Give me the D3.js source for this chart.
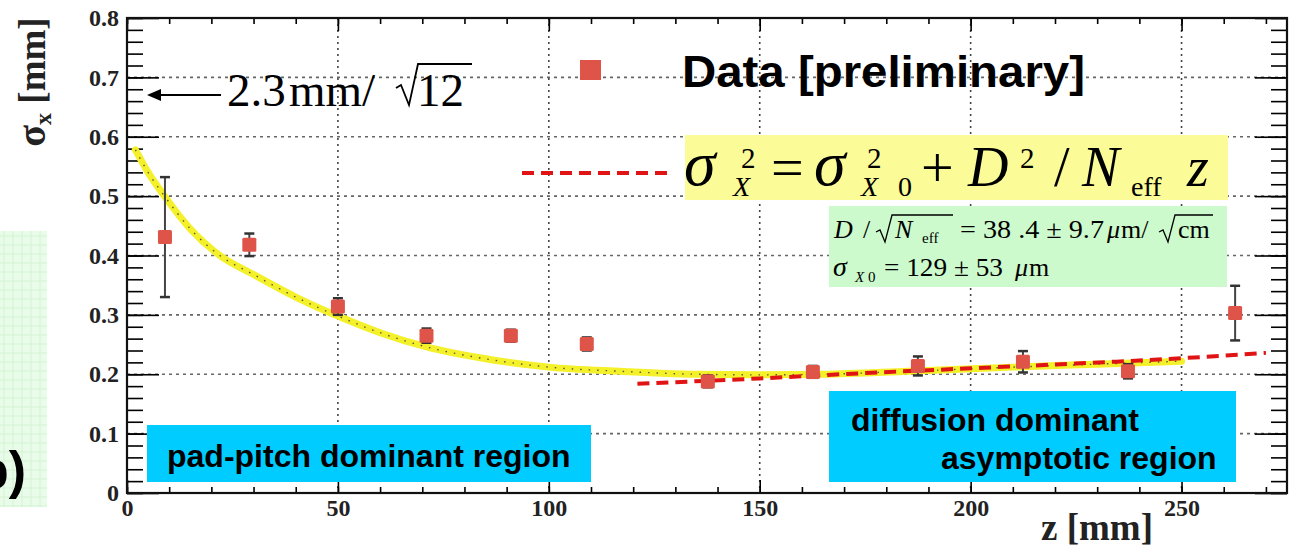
<!DOCTYPE html>
<html>
<head>
<meta charset="utf-8">
<script src="https://cdn.jsdelivr.net/npm/d3@7"></script>
<style>
  body { margin: 0; background: #fff; }
  svg { display: block; }
  .tick line { stroke: #000; stroke-width: 1.6; }
  .axis path.domain { display: none; }
</style>
</head>
<body>
<svg width="1297" height="549"></svg>
<script>
// measured points (z in mm, sigma_x in mm)
const zVals = [9, 29, 50, 71, 91, 109, 137.7, 162.6, 187.5, 212.4, 237.3, 262.7];
const sigmaVals = [0.431, 0.418, 0.314, 0.265, 0.265, 0.251, 0.188, 0.204, 0.214, 0.221, 0.205, 0.303];
const sigmaErr = [0.101, 0.019, 0.014, 0.012, 0.010, 0.011, 0.010, 0.010, 0.016, 0.018, 0.012, 0.046];

// yellow curve (pad-pitch fit)
const curveZ = [2, 5, 9, 15, 22, 30, 40, 50, 60, 71, 85, 100, 117, 135, 150, 165, 185, 210, 230, 250];
const curveS = [0.578, 0.540, 0.499, 0.445, 0.400, 0.368, 0.330, 0.298, 0.270, 0.246, 0.226, 0.212, 0.205, 0.200, 0.199, 0.200, 0.205, 0.212, 0.217, 0.222];

// red dashed diffusion fit
const fitZ = [121, 150, 175, 200, 225, 250, 270];
const fitS = [0.184, 0.193, 0.202, 0.210, 0.218, 0.227, 0.236];

const xMajor = [0, 50, 100, 150, 200, 250];
const yMajor = [0, 0.1, 0.2, 0.3, 0.4, 0.5, 0.6, 0.7, 0.8];

const svg = d3.select("svg");
const pL = 127, pR = 1287, pT = 18, pB = 493;

const x = d3.scaleLinear().domain([0, 275]).range([pL, pR]);
const y = d3.scaleLinear().domain([0, 0.8]).range([pB, pT]);

const xMinor = d3.range(0, 276, 10);
const yMinor = d3.range(0, 0.81, 0.02);

// left cut-off panel of the slide
const gp = svg.append("g");
gp.append("rect").attr("x", 0).attr("y", 231).attr("width", 47).attr("height", 276).attr("fill", "#e9fce9");
d3.range(4, 47, 9).forEach(v => gp.append("line").attr("x1", v).attr("x2", v).attr("y1", 231).attr("y2", 507)
    .attr("stroke", "#d4f3d4").attr("stroke-width", 1));
d3.range(236, 507, 9).forEach(v => gp.append("line").attr("x1", 0).attr("x2", 47).attr("y1", v).attr("y2", v)
    .attr("stroke", "#d4f3d4").attr("stroke-width", 1));
gp.append("text").attr("x", 26).attr("y", 488).attr("text-anchor", "end")
    .attr("font-family", "Liberation Sans, Arial, sans-serif").attr("font-weight", "bold")
    .attr("font-size", 52).attr("fill", "#000").text("b)");

// grid
const grid = svg.append("g");
xMajor.filter(d => d > 0).forEach(d => grid.append("line")
    .attr("x1", x(d)).attr("x2", x(d)).attr("y1", pT).attr("y2", pB)
    .attr("stroke", "#444").attr("stroke-width", 1.6).attr("stroke-dasharray", "2,4"));
yMajor.filter(d => d > 0 && d < 0.8).forEach(d => grid.append("line")
    .attr("x1", pL).attr("x2", pR).attr("y1", y(d)).attr("y2", y(d))
    .attr("stroke", "#666").attr("stroke-width", 1.6).attr("stroke-dasharray", "3,4"));

// axes ticks (inward, on all four sides)
function styleLabels(g) {
    g.selectAll("text").attr("font-family", "Liberation Serif, serif").attr("font-weight", "bold")
        .attr("font-size", 24).attr("fill", "#222");
}
svg.append("g").attr("class", "axis").attr("transform", `translate(0,${pB})`)
    .call(d3.axisBottom(x).tickValues(xMinor).tickSize(-6).tickFormat(""));
svg.append("g").attr("class", "axis").attr("transform", `translate(0,${pB})`)
    .call(d3.axisBottom(x).tickValues(xMajor).tickSize(-13).tickPadding(6).tickFormat(d3.format("d")))
    .call(styleLabels);
svg.append("g").attr("class", "axis").attr("transform", `translate(0,${pT})`)
    .call(d3.axisTop(x).tickValues(xMinor).tickSize(-6).tickFormat(""));
svg.append("g").attr("class", "axis").attr("transform", `translate(0,${pT})`)
    .call(d3.axisTop(x).tickValues(xMajor).tickSize(-13).tickFormat(""));
svg.append("g").attr("class", "axis").attr("transform", `translate(${pL},0)`)
    .call(d3.axisLeft(y).tickValues(yMinor).tickSize(-16).tickFormat(""));
svg.append("g").attr("class", "axis").attr("transform", `translate(${pL},0)`)
    .call(d3.axisLeft(y).tickValues(yMajor).tickSize(-32).tickPadding(8)
        .tickFormat(d => d === 0 ? "0" : d3.format(".1f")(d)))
    .call(styleLabels);
svg.append("g").attr("class", "axis").attr("transform", `translate(${pR},0)`)
    .call(d3.axisRight(y).tickValues(yMinor).tickSize(-16).tickFormat(""));
svg.append("g").attr("class", "axis").attr("transform", `translate(${pR},0)`)
    .call(d3.axisRight(y).tickValues(yMajor).tickSize(-32).tickFormat(""));

svg.append("rect").attr("x", pL).attr("y", pT).attr("width", pR - pL).attr("height", pB - pT)
    .attr("fill", "none").attr("stroke", "#111").attr("stroke-width", 2.2);

// axis titles
const yt = svg.append("text").attr("transform", "translate(45,82) rotate(-90)")
    .attr("text-anchor", "middle").attr("font-family", "Liberation Serif, serif")
    .attr("font-weight", "bold").attr("fill", "#222");
yt.append("tspan").attr("font-size", 40).text("σ");
yt.append("tspan").attr("font-size", 24).attr("dy", 6).text("x");
yt.append("tspan").attr("font-size", 37).attr("dy", -6).text(" [mm]");

svg.append("text").attr("x", 1153).attr("y", 540).attr("text-anchor", "end")
    .attr("font-family", "Liberation Serif, serif").attr("font-weight", "bold")
    .attr("font-size", 37).attr("fill", "#222").text("z [mm]");

// yellow fit curve with dotted core
const curve = curveZ.map((z, i) => [z, curveS[i]]);
const line = d3.line().x(d => x(d[0])).y(d => y(d[1])).curve(d3.curveMonotoneX);
svg.append("path").datum(curve).attr("d", line).attr("fill", "none")
    .attr("stroke", "#f4f02a").attr("stroke-width", 7).attr("stroke-linecap", "round");
svg.append("path").datum(curve).attr("d", line).attr("fill", "none")
    .attr("stroke", "#5a5a30").attr("stroke-width", 1.4).attr("stroke-dasharray", "1.5,7");

// red dashed fit
const fit = fitZ.map((z, i) => [z, fitS[i]]);
svg.append("path").datum(fit).attr("d", line).attr("fill", "none")
    .attr("stroke", "#e01414").attr("stroke-width", 4).attr("stroke-dasharray", "12,7");

// data points with error bars
const pts = svg.append("g");
zVals.forEach((z, i) => {
    const cx = x(z), y1 = y(sigmaVals[i] + sigmaErr[i]), y2 = y(sigmaVals[i] - sigmaErr[i]);
    pts.append("line").attr("x1", cx).attr("x2", cx).attr("y1", y1).attr("y2", y2)
        .attr("stroke", "#444").attr("stroke-width", 2);
    [y1, y2].forEach(yy => pts.append("line").attr("x1", cx - 5).attr("x2", cx + 5)
        .attr("y1", yy).attr("y2", yy).attr("stroke", "#333").attr("stroke-width", 2.5));
    pts.append("rect").attr("x", cx - 7).attr("y", y(sigmaVals[i]) - 7)
        .attr("width", 14).attr("height", 14).attr("rx", 1.5).attr("fill", "#de5448");
});

// legend
svg.append("rect").attr("x", 580).attr("y", 60).attr("width", 21).attr("height", 20).attr("fill", "#de5448");
svg.append("text").attr("x", 682).attr("y", 87).attr("font-family", "Liberation Sans, Arial, sans-serif")
    .attr("font-weight", "bold").attr("font-size", 45).attr("fill", "#000")
    .attr("textLength", 403).attr("lengthAdjust", "spacingAndGlyphs").text("Data [preliminary]");
svg.append("line").attr("x1", 522).attr("x2", 668).attr("y1", 173).attr("y2", 173)
    .attr("stroke", "#e01414").attr("stroke-width", 4).attr("stroke-dasharray", "12,7");

// formula box
svg.append("rect").attr("x", 685).attr("y", 135).attr("width", 543).attr("height", 65).attr("fill", "#fbfb98");
svg.append("rect").attr("x", 829).attr("y", 206).attr("width", 398).attr("height", 81).attr("fill", "#ccfacc");

function put(str, px, py, size, italic, len) {
    const t = svg.append("text").attr("x", px).attr("y", py).attr("font-family", "Liberation Serif, Times New Roman, serif")
        .attr("font-size", size).attr("font-style", italic ? "italic" : "normal").attr("fill", "#000").text(str);
    if (len) t.attr("textLength", len).attr("lengthAdjust", "spacingAndGlyphs");
}
put("σ", 684, 185, 64, true);
put("2", 741, 168, 29, false);
put("X", 733, 196, 28, true);
put("=", 771, 187, 58, false);
put("σ", 814, 185, 64, true);
put("2", 867, 168, 29, false);
put("X", 861, 196, 28, true);
put("0", 898, 196, 28, false);
put("+", 921, 187, 58, false);
put("D", 968, 186, 56, true);
put("2", 1020, 168, 29, false);
put("/", 1054, 186, 56, false);
put("N", 1082, 186, 56, true);
put("eff", 1131, 196, 28, false);
put("z", 1187, 186, 56, true);

function radical(x0, yb, ytop, x1) {
    svg.append("path").attr("d", `M${x0},${yb - 9} L${x0 + 4},${yb - 11} L${x0 + 9},${yb + 1} L${x0 + 16},${ytop} L${x1},${ytop}`)
        .attr("fill", "none").attr("stroke", "#000").attr("stroke-width", 1.3);
}
put("D", 834, 238, 26, true);
put("/", 863, 238, 26, false);
radical(876, 241, 215, 953);
put("N", 895, 238, 26, true);
put("eff", 922, 243, 15, false);
put("= 38 .4 ± 9.7", 960, 238, 26, false, 144);
put("μ", 1107, 238, 26, true);
put("m/", 1121, 238, 26, false);
radical(1159, 241, 215, 1213);
put("cm", 1178, 238, 26, false);

put("σ", 833, 276, 28, true);
put("X", 855, 282, 15, true);
put("0", 868, 282, 15, false);
put("= 129  ± 53", 884, 276, 26, false, 119);
put("μ", 1015, 276, 26, true);
put("m", 1029, 276, 26, false);

// arrow annotation
svg.append("line").attr("x1", 158).attr("x2", 221).attr("y1", 95).attr("y2", 95)
    .attr("stroke", "#000").attr("stroke-width", 1.8);
svg.append("path").attr("d", "M147,95 L161,89 L161,101 Z").attr("fill", "#000");
put("2.3", 227, 106, 47, false);
put("mm", 289, 106, 47, false);
put("/", 362, 106, 47, false);
svg.append("path").attr("d", "M396,88 L401,85 L409,105 L418,64 L472,64")
    .attr("fill", "none").attr("stroke", "#000").attr("stroke-width", 1.8);
put("12", 417, 106, 47, false);

// region labels
function region(bx, by, bw, bh, lines) {
    svg.append("rect").attr("x", bx).attr("y", by).attr("width", bw).attr("height", bh).attr("fill", "#00ccff");
    lines.forEach(l => svg.append("text").attr("x", l[1]).attr("y", l[2])
        .attr("font-family", "Liberation Sans, Arial, sans-serif").attr("font-weight", "bold")
        .attr("font-size", 32).attr("fill", "#000").text(l[0]));
}
region(147, 425, 444, 57, [["pad-pitch dominant region", 167, 467]]);
region(829, 391, 407, 91, [["diffusion dominant", 851, 431], ["asymptotic region", 941, 469]]);
</script>
</body>
</html>
